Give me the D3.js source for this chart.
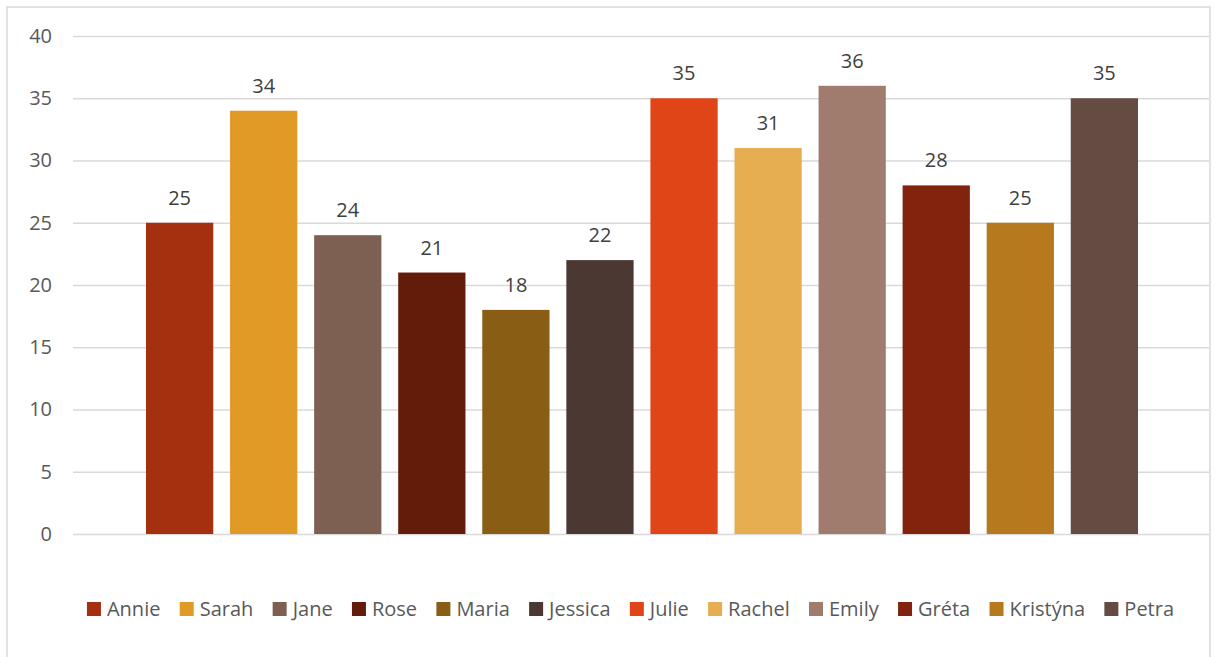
<!DOCTYPE html>
<html>
<head>
<meta charset="utf-8">
<script src="https://cdn.jsdelivr.net/npm/d3@7"></script>
<style>
  html, body { margin: 0; padding: 0; background: #fff; }
  svg { display: block; font-family: "Open Sans", "Noto Sans", sans-serif; }
</style>
</head>
<body>
<div id="chart"></div>
<script>
// data
const names = ['Annie', 'Sarah', 'Jane', 'Rose', 'Maria', 'Jessica', 'Julie', 'Rachel', 'Emily', 'Gréta', 'Kristýna', 'Petra'];
const values = [25, 34, 24, 21, 18, 22, 35, 31, 36, 28, 25, 35];
const colors = ['#A5300F', '#E09A25', '#7E6052', '#631B0A', '#8A5D14', '#4B3832', '#E04517', '#E6AE51', '#A07C6E', '#82240D', '#B6791D', '#654C43'];
const yTicks = [0, 5, 10, 15, 20, 25, 30, 35, 40];

const W = 1217, H = 657;
const plot = {left: 73, right: 1209, top: 36, bottom: 534};

const svg = d3.select('#chart').append('svg')
  .attr('width', W)
  .attr('height', H);

// chart border
svg.append('rect')
  .attr('x', 7).attr('y', 7)
  .attr('width', 1203).attr('height', 680)
  .attr('fill', '#fff')
  .attr('stroke', '#d9d9d9')
  .attr('stroke-width', 1.5);

// scales
const y = d3.scaleLinear().domain([0, 40]).range([plot.bottom, plot.top]);
const x = d3.scaleBand().domain(names).range([146, 1138]).paddingInner(0.2);
const color = d3.scaleOrdinal().domain(names).range(colors);

// y axis with gridlines
const yAxis = svg.append('g')
  .attr('transform', `translate(${plot.left},0)`)
  .call(d3.axisLeft(y).tickValues(yTicks).tickSize(-(plot.right - plot.left)).tickPadding(21));
yAxis.select('.domain').remove();
yAxis.selectAll('.tick line').attr('stroke', '#d9d9d9').attr('stroke-width', 1.4);
yAxis.selectAll('.tick text')
  .attr('fill', '#595959')
  .style('font-size', '20px')
  .style('font-family', '"Open Sans", "Noto Sans", sans-serif');

// bars
const data = names.map((n, i) => ({name: n, value: values[i]}));
svg.append('g').selectAll('rect')
  .data(data)
  .enter()
  .append('rect')
  .attr('x', d => x(d.name))
  .attr('y', d => y(d.value))
  .attr('width', x.bandwidth())
  .attr('height', d => y(0) - y(d.value))
  .attr('fill', d => color(d.name));

// value labels
svg.append('g').selectAll('text')
  .data(data)
  .enter()
  .append('text')
  .attr('x', d => x(d.name) + x.bandwidth() / 2)
  .attr('y', d => y(d.value) - 18)
  .attr('text-anchor', 'middle')
  .attr('fill', '#404040')
  .style('font-size', '20px')
  .text(d => d.value);

// legend
const legend = svg.append('g');
const items = legend.selectAll('g')
  .data(names)
  .enter()
  .append('g');
items.append('rect')
  .attr('width', 14).attr('height', 14)
  .attr('y', 602)
  .attr('fill', d => color(d));
items.append('text')
  .attr('x', 20)
  .attr('y', 616)
  .attr('fill', '#595959')
  .style('font-size', '20px')
  .text(d => d);

// lay legend items out in a row, centred
const gap = 19.3;
let pos = 0;
const offsets = [];
items.each(function() {
  const w = d3.select(this).select('text').node().getComputedTextLength();
  offsets.push(pos);
  pos += 20 + w + gap;
});
const total = pos - gap;
const start = 630.5 - total / 2;
items.attr('transform', (d, i) => `translate(${start + offsets[i]},0)`);
</script>
</body>
</html>
